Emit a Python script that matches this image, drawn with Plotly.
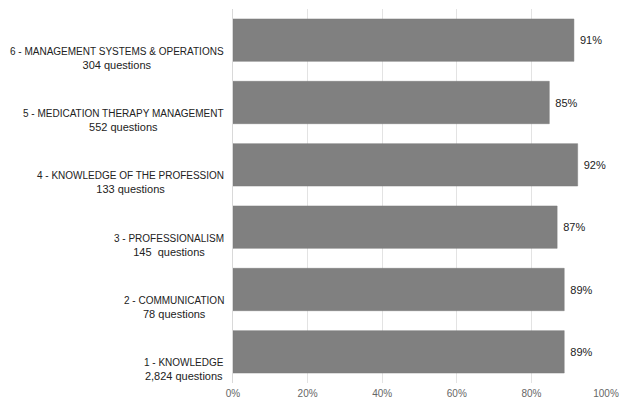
import plotly.graph_objects as go

domain_names = [
    "1 - KNOWLEDGE",
    "2 - COMMUNICATION",
    "3 - PROFESSIONALISM",
    "4 - KNOWLEDGE OF THE PROFESSION",
    "5 - MEDICATION THERAPY MANAGEMENT",
    "6 - MANAGEMENT SYSTEMS & OPERATIONS",
]
question_counts = [
    "2,824 questions",
    "78 questions",
    "145  questions",
    "133 questions",
    "552 questions",
    "304 questions",
]
values = [88.8, 88.8, 86.9, 92.4, 84.8, 91.4]
value_labels = ["89%", "89%", "87%", "92%", "85%", "91%"]
x_ticks = [0, 20, 40, 60, 80, 100]
x_tick_labels = ["0%", "20%", "40%", "60%", "80%", "100%"]

FONT = "Liberation Sans, Arial, sans-serif"
ids = list(range(len(domain_names)))

fig = go.Figure()
fig.add_trace(go.Bar(
    y=ids,
    x=values,
    orientation="h",
    marker=dict(color="#808080", line=dict(color="#7a7a7a", width=0.5)),
    text=value_labels,
    texttemplate=" %{text}",
    textposition="outside",
    textfont=dict(family=FONT, size=11, color="#222222"),
    cliponaxis=False,
    width=0.68,
    hoverinfo="skip",
))

for i, (name, cnt) in enumerate(zip(domain_names, question_counts)):
    fig.add_annotation(
        x=0, xref="paper", y=i, yref="y",
        text=f"<span style='font-size:10px'>{name}</span><br>{cnt}",
        showarrow=False,
        xanchor="right", yanchor="middle", align="center",
        xshift=-7, yshift=-18,
        font=dict(family=FONT, size=11, color="#222222"),
    )

fig.update_layout(
    width=621, height=403,
    margin=dict(l=233, r=15, t=9, b=20, autoexpand=False),
    paper_bgcolor="white", plot_bgcolor="white",
    showlegend=False,
    font=dict(family=FONT),
    xaxis=dict(
        range=[0, 100], automargin=False,
        tickvals=x_ticks, ticktext=x_tick_labels,
        showgrid=True, gridcolor="#e3e3e3", gridwidth=1,
        zeroline=False, showline=False,
        tickfont=dict(size=10, color="#666666"),
        ticks="", ticklabelstandoff=3,
    ),
    yaxis=dict(
        range=[-0.5, 5.5], automargin=False,
        showticklabels=False, showgrid=False, zeroline=False,
        showline=True, linecolor="#d9d9d9", linewidth=1,
        ticks="",
    ),
)

fig.write_html("out.html")
